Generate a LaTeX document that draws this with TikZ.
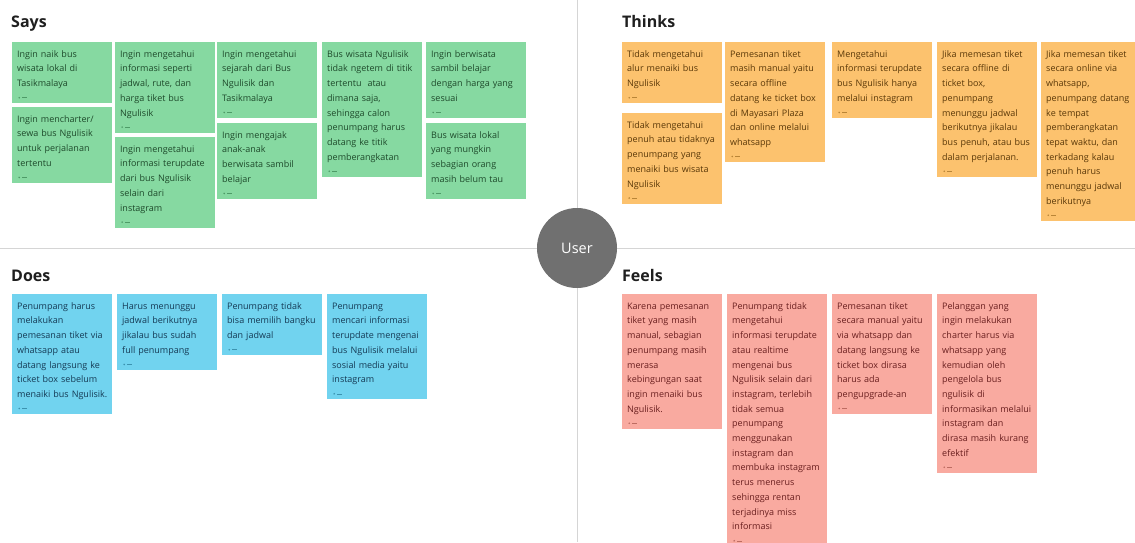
\documentclass[tikz,border=0pt]{standalone}
\usepackage{fontspec}
\setmainfont{Open Sans}

% sticky note palettes
\definecolor{saysfill}{HTML}{86D9A1}
\definecolor{saystext}{HTML}{1E4A2B}
\definecolor{saystag}{HTML}{4E9B67}
\definecolor{thinksfill}{HTML}{FCC26E}
\definecolor{thinkstext}{HTML}{5A3808}
\definecolor{thinkstag}{HTML}{B98537}
\definecolor{doesfill}{HTML}{71D3EF}
\definecolor{doestext}{HTML}{153A55}
\definecolor{doestag}{HTML}{3C93B0}
\definecolor{feelsfill}{HTML}{F9AAA0}
\definecolor{feelstext}{HTML}{6A1F1F}
\definecolor{feelstag}{HTML}{BD6C62}
\definecolor{divider}{HTML}{D5D5D5}
\definecolor{usergray}{HTML}{707070}
\definecolor{heading}{HTML}{1F1F1F}

\newcommand\notefont{\fontsize{9}{14.7}\selectfont}

\begin{document}
\begin{tikzpicture}[x=1pt,y=-1pt,
  tagcol/.store in=\tagcol, tagcol=black,
  note/.style={anchor=north west, inner xsep=5pt, inner ysep=5pt,
    text width=90pt, align=left, font=\notefont, minimum width=100pt,
    execute at begin node={\parindent=0pt\rule{0pt}{10pt}},
    execute at end node={\rule[-11.6pt]{0pt}{11.6pt}},
    path picture={
      \fill[\tagcol] ([shift={(7pt,5.5pt)}]path picture bounding box.south west) circle (0.9pt);
      \draw[\tagcol, line width=0.6pt] ([shift={(10pt,5.5pt)}]path picture bounding box.south west) -- ++(5pt,0pt);
    }},
  says/.style={note, fill=saysfill, text=saystext, tagcol=saystag},
  thinks/.style={note, fill=thinksfill, text=thinkstext, tagcol=thinkstag},
  does/.style={note, fill=doesfill, text=doestext, tagcol=doestag},
  feels/.style={note, fill=feelsfill, text=feelstext, tagcol=feelstag},
  quadtitle/.style={anchor=base west, inner sep=0pt, text=heading,
    font=\fontsize{16}{18}\selectfont\bfseries},
  divline/.style={draw=divider, line width=0.9pt}]

\useasboundingbox[fill=white] (0,0) rectangle (1135,542);

% quadrant dividers and the central persona
\draw[divline] (577,0) -- (577,542);
\draw[divline] (0,248) -- (1135,248);
\node[circle, fill=usergray, minimum size=80pt, inner sep=0pt, text=white,
  font=\fontsize{14.5}{16}\selectfont] (user) at (577,248) {User};

% headings
\node[quadtitle] (tsays)   at (11,27)  {Says};
\node[quadtitle] (tthinks) at (622,27) {Thinks};
\node[quadtitle] (tdoes)   at (11,281) {Does};
\node[quadtitle] (tfeels)  at (622,281) {Feels};

% Says
\node[says] (s1) at (12,42)  {Ingin naik bus\\wisata lokal di\\Tasikmalaya};
\node[says] (s2) at (12,107) {Ingin mencharter/\\sewa bus Ngulisik\\untuk perjalanan\\tertentu};
\node[says] (s3) at (115,42) {Ingin mengetahui\\informasi seperti\\jadwal, rute, dan\\harga tiket bus\\Ngulisik};
\node[says] (s4) at (115,137) {Ingin mengetahui\\informasi terupdate\\dari bus Ngulisik\\selain dari\\instagram};
\node[says] (s5) at (217,42) {Ingin mengetahui\\sejarah dari Bus\\Ngulisik dan\\Tasikmalaya};
\node[says] (s6) at (217,123) {Ingin mengajak\\anak-anak\\berwisata sambil\\belajar};
\node[says] (s7) at (322,42) {Bus wisata Ngulisik\\tidak ngetem di titik\\tertentu \ atau\\dimana saja,\\sehingga calon\\penumpang harus\\datang ke titik\\pemberangkatan};
\node[says] (s8) at (426,42) {Ingin berwisata\\sambil belajar\\dengan harga yang\\sesuai};
\node[says] (s9) at (426,123) {Bus wisata lokal\\yang mungkin\\sebagian orang\\masih belum tau};

% Thinks
\node[thinks] (t1) at (622,42)  {Tidak mengetahui\\alur menaiki bus\\Ngulisik};
\node[thinks] (t2) at (622,113) {Tidak mengetahui\\penuh atau tidaknya\\penumpang yang\\menaiki bus wisata\\Ngulisik};
\node[thinks] (t3) at (725,42)  {Pemesanan tiket\\masih manual yaitu\\secara offline\\datang ke ticket box\\di Mayasari Plaza\\dan online melalui\\whatsapp};
\node[thinks] (t4) at (832,42)  {Mengetahui\\informasi terupdate\\bus Ngulisik hanya\\melalui instagram};
\node[thinks] (t5) at (937,42)  {Jika memesan tiket\\secara offline di\\ticket box,\\penumpang\\menunggu jadwal\\berikutnya jikalau\\bus penuh, atau bus\\dalam perjalanan.};
\node[thinks] (t6) at (1041,42) {Jika memesan tiket\\secara online via\\whatsapp,\\penumpang datang\\ke tempat\\pemberangkatan\\tepat waktu, dan\\terkadang kalau\\penuh harus\\menunggu jadwal\\berikutnya};

% Does
\node[does] (d1) at (12,294)  {Penumpang harus\\melakukan\\pemesanan tiket via\\whatsapp atau\\datang langsung ke\\ticket box sebelum\\\mbox{menaiki bus Ngulisik.}};
\node[does] (d2) at (117,294) {Harus menunggu\\jadwal berikutnya\\jikalau bus sudah\\full penumpang};
\node[does] (d3) at (222,294) {Penumpang tidak\\bisa memilih bangku\\dan jadwal};
\node[does] (d4) at (327,294) {Penumpang\\mencari informasi\\terupdate mengenai\\bus Ngulisik melalui\\sosial media yaitu\\instagram};

% Feels
\node[feels] (f1) at (622,294) {Karena pemesanan\\tiket yang masih\\manual, sebagian\\penumpang masih\\merasa\\kebingungan saat\\ingin menaiki bus\\Ngulisik.};
\node[feels] (f2) at (727,294) {Penumpang tidak\\mengetahui\\informasi terupdate\\atau realtime\\mengenai bus\\Ngulisik selain dari\\instagram, terlebih\\tidak semua\\penumpang\\menggunakan\\instagram dan\\membuka instagram\\terus menerus\\sehingga rentan\\terjadinya miss\\informasi};
\node[feels] (f3) at (832,294) {Pemesanan tiket\\secara manual yaitu\\via whatsapp dan\\datang langsung ke\\ticket box dirasa\\harus ada\\pengupgrade-an};
\node[feels] (f4) at (937,294) {Pelanggan yang\\ingin melakukan\\charter harus via\\whatsapp yang\\kemudian oleh\\pengelola bus\\ngulisik di\\informasikan melalui\\instagram dan\\dirasa masih kurang\\efektif};

\end{tikzpicture}
\end{document}
